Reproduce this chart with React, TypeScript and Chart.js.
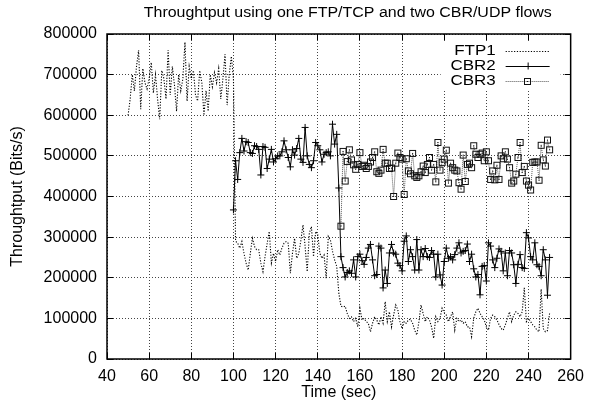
import React, { useEffect, useRef } from "react";
import { Chart, registerables } from "chart.js";

Chart.register(...registerables);

const TITLE = "Throughtput using one FTP/TCP and two CBR/UDP flows";
const X_TITLE = "Time (sec)";
const Y_TITLE = "Throughtput (Bits/s)";
const X_MIN = 40;
const X_MAX = 260;
const X_STEP = 20;
const Y_MIN = 0;
const Y_MAX = 800000;
const Y_STEP = 100000;

const SERIES_NAMES = ["FTP1", "CBR2", "CBR3"];

// throughput samples, one per second, in kbit/s
const FTP1_START = 50;
const FTP1_KBITS = [
  600, 640, 700, 660, 720, 760, 615, 715, 680, 665,
  690, 730, 655, 700, 640, 590, 710, 690, 640, 760,
  650, 720, 675, 610, 700, 660, 690, 780, 635, 720,
  690, 710, 650, 635, 710, 680, 600, 660, 610, 700,
  670, 705, 680, 715, 640, 690, 750, 625, 700, 745,
  690,
  290, 285, 273, 289, 260, 236, 219, 260, 297, 277,
  269, 269, 236, 215, 252, 285, 314, 236, 260, 240,
  269, 256, 273, 285, 289, 285, 211, 260, 297, 248,
  260, 293, 330, 277, 215, 310, 326, 252, 314, 306,
  260, 248, 256, 199, 302, 293, 265, 244, 228, 162,
  130, 128, 130, 112, 100, 104, 92, 100, 79, 125,
  96, 100, 92, 88, 67, 88, 104, 96, 84, 104,
  88, 141, 92, 116, 79, 108, 133, 121, 92, 75,
  92, 88, 96, 98, 88, 71, 59, 92, 133, 112,
  92, 104, 96, 79, 51, 104, 92, 100, 125, 114,
  108, 92, 104, 116, 71, 100, 92, 96, 88, 92,
  79, 79, 55, 100, 116, 125, 112, 104, 96, 79,
  71, 100, 108, 104, 96, 85, 75, 71, 84, 100,
  116, 92, 108, 116, 112, 104, 116, 175, 92, 100,
  92, 84, 79, 71, 67, 172, 75, 67, 70, 112,
];

const CBR2_START = 100;
const CBR2_KBITS = [
  367, 488, 442, 508, 543, 512, 535, 533, 508, 506,
  525, 523, 516, 453, 523, 521, 469, 492, 516, 485,
  493, 500, 500, 510, 537, 515, 496, 473, 515, 502,
  518, 543, 492, 484, 570, 500, 479, 471, 488, 533,
  525, 515, 485, 504, 508, 510, 500, 578, 529, 553,
  421, 252, 225, 202, 213, 217, 211, 244, 202, 252,
  258, 242, 233, 250, 273, 282, 244, 205, 208, 278,
  273, 175, 219, 186, 261, 282, 261, 258, 236, 230,
  217, 290, 303, 240, 269, 252, 219, 294, 219, 269,
  252, 272, 252, 250, 267, 258, 202, 258, 207, 182,
  240, 273, 248, 252, 244, 257, 273, 286, 261, 265,
  267, 283, 240, 258, 222, 202, 208, 158, 228, 230,
  192, 286, 278, 244, 225, 248, 271, 265, 217, 261,
  205, 267, 261, 232, 186, 233, 257, 225, 223, 311,
  298, 252, 244, 286, 232, 228, 205, 269, 244, 157,
  250,
];

const CBR3_START = 151;
const CBR3_KBITS = [
  327, 511, 438, 486, 515, 490, 478, 467, 479, 508,
  474, 477, 469, 474, 485, 496, 510, 461, 457, 465,
  516, 482, 482, 469, 470, 400, 482, 507, 496, 492,
  405, 493, 463, 456, 506, 451, 447, 451, 461, 475,
  459, 479, 496, 465, 479, 436, 533, 465, 484, 492,
  514, 433, 482, 471, 465, 463, 434, 418, 502, 437,
  479, 482, 471, 525, 504, 496, 504, 507, 488, 510,
  488, 442, 463, 441, 477, 442, 500, 493, 510, 492,
  471, 433, 438, 455, 496, 533, 459, 474, 438, 428,
  416, 484, 485, 485, 440, 526, 490, 475, 539, 515,
];

const FONT = '"Liberation Sans", Arial, Helvetica, sans-serif';

const toPoints = (start: number, kbits: number[]) =>
  kbits.map((v, i) => ({ x: start + i, y: v * 1000 }));

function makeSquare(): HTMLCanvasElement {
  const c = document.createElement("canvas");
  c.width = 9;
  c.height = 9;
  const g = c.getContext("2d")!;
  g.strokeStyle = "#111";
  g.lineWidth = 1;
  g.strokeRect(1.5, 1.5, 6, 6);
  g.fillStyle = "#111";
  g.fillRect(4, 4, 1, 1);
  return c;
}

function drawText(
  ctx: CanvasRenderingContext2D,
  text: string,
  x: number,
  y: number,
  size: number,
  sx: number,
  align: CanvasTextAlign,
  baseline: CanvasTextBaseline
) {
  ctx.save();
  ctx.translate(x, y);
  ctx.scale(sx, 1);
  ctx.font = `${size}px ${FONT}`;
  ctx.fillStyle = "#000";
  ctx.textAlign = align;
  ctx.textBaseline = baseline;
  ctx.fillText(text, 0, 0);
  ctx.restore();
}

const alignPx = (p: number) => Math.round(p - 0.5) + 0.5;

const gnuplotPlugin = {
  id: "gnuplotDecor",
  afterDatasetsDraw(chart: any) {
    const { ctx, chartArea, scales } = chart;
    const { left, right, top, bottom } = chartArea;
    const xs = scales.x;
    const ys = scales.y;
    ctx.save();
    ctx.setLineDash([]);
    ctx.strokeStyle = "#000";
    ctx.lineWidth = 1;
    const TL = 6;
    ctx.beginPath();
    xs.ticks.forEach((t: any) => {
      const px = alignPx(xs.getPixelForValue(t.value));
      ctx.moveTo(px, bottom);
      ctx.lineTo(px, bottom - TL);
      ctx.moveTo(px, top);
      ctx.lineTo(px, top + TL);
    });
    ys.ticks.forEach((t: any) => {
      const py = alignPx(ys.getPixelForValue(t.value));
      ctx.moveTo(left, py);
      ctx.lineTo(left + TL, py);
      ctx.moveTo(right, py);
      ctx.lineTo(right - TL, py);
    });
    ctx.stroke();
    ctx.lineWidth = 1.5;
    ctx.strokeRect(left, top, right - left, bottom - top);

    // title
    drawText(ctx, TITLE, (left + right) / 2 + 9, 17, 14, 1.14, "center", "alphabetic");

    // legend (gnuplot style: text then sample)
    ctx.fillStyle = "#fff";
    ctx.fillRect(right - 130, top + 9, 120, 46);
    const rows = [top + 16.7, top + 32, top + 47];
    const textRight = right - 75;
    const lineL = right - 65;
    const lineR = right - 21;
    const mid = right - 43;
    chart.data.datasets.forEach((ds: any, i: number) => {
      const y = rows[i];
      drawText(ctx, ds.label, textRight, y, 14.5, 1.17, "right", "middle");
      ctx.save();
      ctx.strokeStyle = ds.borderColor;
      ctx.lineWidth = ds.borderWidth;
      ctx.setLineDash(ds.borderDash || []);
      ctx.beginPath();
      ctx.moveTo(lineL, Math.round(y) + 0.5);
      ctx.lineTo(lineR, Math.round(y) + 0.5);
      ctx.stroke();
      ctx.setLineDash([]);
      if (ds.pointStyle === "cross") {
        ctx.strokeStyle = ds.pointBorderColor;
        ctx.lineWidth = 1;
        const r = ds.pointRadius;
        ctx.beginPath();
        ctx.moveTo(mid - r, Math.round(y) + 0.5);
        ctx.lineTo(mid + r, Math.round(y) + 0.5);
        ctx.moveTo(mid + 0.5, y - r);
        ctx.lineTo(mid + 0.5, y + r);
        ctx.stroke();
      } else if (ds.pointStyle instanceof HTMLCanvasElement) {
        const img = ds.pointStyle as HTMLCanvasElement;
        ctx.drawImage(img, Math.round(mid - img.width / 2), Math.round(y - img.height / 2));
      }
      ctx.restore();
    });
    ctx.restore();
  },
};

export default function App() {
  const canvasRef = useRef<HTMLCanvasElement | null>(null);

  useEffect(() => {
    const canvas = canvasRef.current;
    if (!canvas) return;
    const square = makeSquare();
    const chart = new Chart(canvas, {
      type: "line",
      data: {
        datasets: [
          {
            label: SERIES_NAMES[0],
            data: toPoints(FTP1_START, FTP1_KBITS),
            borderColor: "#000",
            borderWidth: 1.1,
            borderDash: [1.2, 1.6],
            pointRadius: 0,
            tension: 0,
            order: 2,
          },
          {
            label: SERIES_NAMES[1],
            data: toPoints(CBR2_START, CBR2_KBITS),
            borderColor: "#000",
            borderWidth: 1,
            pointStyle: "cross",
            pointRadius: 3.5,
            pointBorderWidth: 1,
            pointBorderColor: "#000",
            tension: 0,
            order: 1,
          },
          {
            label: SERIES_NAMES[2],
            data: toPoints(CBR3_START, CBR3_KBITS),
            borderColor: "#555",
            borderWidth: 1,
            borderDash: [1, 1],
            pointStyle: square,
            pointRadius: 4,
            tension: 0,
            order: 0,
          },
        ] as any,
      },
      options: {
        animation: false,
        responsive: false,
        maintainAspectRatio: false,
        layout: { padding: { left: 0, right: 15, top: 34, bottom: 0 } },
        plugins: {
          legend: { display: false },
          tooltip: { enabled: false },
          title: { display: false },
        },
        scales: {
          x: {
            type: "linear",
            min: X_MIN,
            max: X_MAX,
            afterFit: (s: any) => {
              s.height = 56;
            },
            ticks: {
              stepSize: X_STEP,
              padding: 8,
              maxRotation: 0,
              autoSkip: false,
              color: "#000",
              font: { family: FONT, size: 16 },
            },
            grid: { color: "#444", lineWidth: 1, drawTicks: false },
            border: { display: false, dash: [1, 2] },
            title: {
              display: true,
              text: X_TITLE,
              color: "#000",
              font: { family: FONT, size: 16 },
              padding: { top: 0, bottom: 13 },
            },
          },
          y: {
            type: "linear",
            min: Y_MIN,
            max: Y_MAX,
            afterFit: (s: any) => {
              s.width = 107;
            },
            ticks: {
              stepSize: Y_STEP,
              padding: 10,
              color: "#000",
              font: { family: FONT, size: 16 },
              callback: (v: any) => String(v),
            },
            grid: { color: "#444", lineWidth: 1, drawTicks: false },
            border: { display: false, dash: [1, 2] },
            title: {
              display: true,
              text: Y_TITLE,
              color: "#000",
              font: { family: FONT, size: 16 },
              padding: { top: 8, bottom: 0 },
            },
          },
        },
      } as any,
      plugins: [gnuplotPlugin],
    });
    return () => chart.destroy();
  }, []);

  return (
    <div style={{ position: "fixed", left: 0, top: 0, width: 592, height: 415, background: "#fff" }}>
      <canvas ref={canvasRef} width={592} height={415} style={{ display: "block" }} />
    </div>
  );
}
